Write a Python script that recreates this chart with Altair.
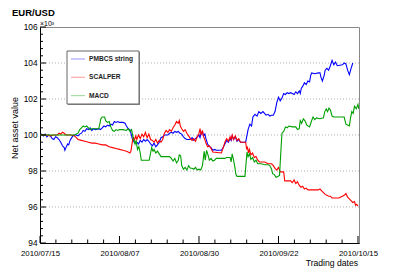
import altair as alt
import pandas as pd

# ---------------- data (values in 10^3 units, x in days after 2010-07-15) ----------------
START = pd.Timestamp("2010-07-15")

series_names = ["PMBCS string", "SCALPER", "MACD"]
series_colors = ["#0000ff", "#ff0000", "#00a000"]

pmbcs_days = [0, 0.5, 1, 1.5, 2, 2.5, 3, 3.5, 4, 4.5, 5, 5.5, 6, 6.5, 7, 7.2, 7.5, 8, 8.3, 8.7, 9, 9.5, 10, 10.5, 11, 11.5,
              12, 12.5, 13, 13.5, 14, 14.5, 15, 15.5, 16, 17, 17.5, 18, 18.5, 19, 19.5, 20, 20.5, 21, 21.5, 22, 22.5, 23,
              24, 24.6, 25, 25.5, 26, 26.3, 26.7, 27, 27.5, 28, 28.5, 29, 29.5, 30, 30.5, 31, 31.5, 32, 32.5, 33, 33.5,
              34, 34.5, 35, 35.5, 36, 37, 37.5, 38, 38.5, 39, 39.5, 40, 40.5, 41, 41.5, 42, 42.5, 43.5, 44, 44.5, 45,
              45.5, 46, 46.3, 46.6, 47, 47.3, 47.7, 48, 48.5, 49, 49.5, 50, 50.5, 51, 52.5, 53, 53.5, 54, 54.5, 55, 55.3,
              55.6, 56, 56.5, 57, 57.5, 58, 59.5, 60.2, 60.7, 61.2, 61.6, 62.2, 62.8, 63.3, 63.9, 64.5, 65.4, 66, 66.5,
              67, 67.5, 68, 68.5, 69, 69.5, 70, 70.5, 71, 71.5, 72, 72.5, 73, 73.5, 74, 74.5, 75, 75.3, 75.6, 76, 76.5,
              77, 77.5, 78, 78.3, 78.6, 79.5, 80.5, 81, 81.3, 81.7, 82.2, 82.5, 83, 83.5, 84, 84.5, 85, 85.5, 86, 87.5,
              88, 88.5, 89, 89.5, 90, 90.5]
pmbcs_vals = [100.0, 100.05, 99.95, 100.05, 99.9, 100.0, 99.95, 99.8, 99.75, 99.9, 99.85, 99.75, 99.6, 99.4, 99.3, 99.15,
              99.3, 99.5, 99.45, 99.7, 99.8, 99.95, 100.0, 100.0, 99.95, 100.05, 100.1, 100.25, 100.2, 100.35, 100.3,
              100.4, 100.25, 100.35, 100.3, 100.35, 100.3, 100.4, 100.5, 100.45, 100.55, 100.5, 100.6, 100.55, 100.75,
              100.7, 100.75, 100.7, 100.7, 100.65, 100.5, 100.35, 100.3, 100.1, 99.8, 99.65, 99.55, 99.6, 99.5, 99.7,
              99.6, 99.75, 99.65, 99.75, 99.65, 99.5, 99.4, 99.55, 99.35, 99.45, 99.6, 99.85, 99.9, 100.0, 100.0,
              100.1, 100.15, 100.1, 100.2, 100.15, 100.2, 100.1, 100.05, 99.9, 99.8, 99.75, 99.75, 99.85, 99.7, 99.8,
              99.9, 100.0, 99.85, 100.1, 100.2, 99.95, 100.05, 99.8, 99.5, 99.35, 99.3, 99.15, 99.2, 99.15, 99.15,
              99.3, 99.5, 99.7, 99.6, 99.8, 99.7, 99.95, 99.75, 99.9, 99.65, 99.75, 99.6, 99.6, 100.3, 100.6, 100.5,
              101.0, 101.15, 101.05, 101.3, 101.2, 101.3, 101.1, 101.15, 101.05, 101.1, 101.1, 101.3, 101.8, 102.1,
              101.9, 102.05, 102.3, 102.25, 102.35, 102.3, 102.35, 102.3, 102.25, 102.4, 102.3, 102.45, 102.3, 102.6,
              102.7, 102.9, 102.8, 103.0, 102.95, 103.3, 103.45, 103.4, 103.45, 103.45, 103.2, 103.0, 103.3, 103.6,
              103.7, 103.6, 103.85, 104.15, 103.9, 104.05, 103.85, 103.9, 104.0, 103.95, 103.6, 103.35, 103.7, 104.0]

scalper_days = [0, 2, 3, 4, 5, 5.5, 6, 6.5, 7, 7.5, 9, 10, 10.5, 11, 12, 13, 14, 15, 16, 17, 18, 19, 20, 21, 22, 23, 24,
                25, 25.5, 26, 26.3, 26.7, 27, 27.3, 27.7, 28, 28.5, 29, 29.5, 30, 30.5, 31, 31.5, 32, 32.5, 33, 33.5,
                34, 34.5, 35, 35.5, 36, 36.5, 37, 37.5, 38, 38.5, 39, 39.5, 40, 40.3, 40.6, 41, 41.5, 42, 42.5, 43,
                43.5, 44, 44.5, 45, 45.5, 46, 46.3, 46.6, 47, 47.3, 47.6, 48, 48.5, 49, 49.5, 50, 52.5, 53, 53.5, 54,
                54.5, 55, 55.3, 55.6, 56, 56.5, 57, 57.5, 58, 59.5, 59.8, 60, 60.3, 60.6, 61, 61.5, 62, 62.5, 63, 63.5,
                65, 66, 67, 67.5, 68, 68.5, 69, 69.5, 70.5, 70.8, 72.5, 73, 73.5, 74, 74.5, 75, 75.5, 76, 76.5, 77,
                77.5, 80.5, 81, 81.5, 82, 82.5, 83, 83.5, 84, 84.5, 86.5, 87, 87.5, 88, 88.5, 89, 89.5, 90, 90.5, 91,
                91.3, 91.6, 92]
scalper_vals = [100.0, 100.0, 99.95, 100.0, 100.0, 100.1, 100.05, 100.15, 100.1, 100.0, 100.0, 99.95, 99.85, 99.75, 99.7,
                99.65, 99.6, 99.55, 99.55, 99.5, 99.45, 99.45, 99.35, 99.3, 99.25, 99.2, 99.15, 99.1, 99.05, 99.0, 99.1,
                99.6, 99.9, 99.7, 99.95, 99.75, 100.0, 99.8, 100.05, 99.9, 100.15, 99.85, 100.05, 99.75, 99.7, 99.6,
                99.75, 99.55, 99.7, 99.6, 99.75, 100.1, 100.25, 100.15, 100.3, 100.2, 100.4, 100.55, 100.75, 100.65,
                100.8, 100.5, 100.35, 100.2, 100.3, 100.1, 99.95, 99.8, 99.7, 99.8, 99.65, 99.9, 100.1, 100.35, 100.0,
                100.25, 99.9, 99.8, 99.55, 99.35, 99.4, 99.25, 99.05, 99.0, 99.3, 99.6, 99.8, 99.65, 99.9, 99.75, 100.0,
                99.75, 99.95, 99.7, 99.8, 99.6, 99.6, 99.2, 99.35, 99.0, 99.2, 98.9, 99.0, 98.75, 98.8, 98.6, 98.5,
                98.5, 98.4, 98.4, 98.3, 98.15, 98.05, 98.2, 97.95, 97.95, 97.45, 97.45, 97.35, 97.5, 97.3, 97.4, 97.2,
                97.1, 97.15, 97.0, 97.05, 96.95, 96.95, 97.0, 96.9, 96.8, 96.7, 96.65, 96.6, 96.6, 96.5, 96.5, 96.55,
                96.6, 96.65, 96.75, 96.55, 96.45, 96.35, 96.25, 96.3, 96.1, 96.15, 96.05]

macd_days = [0, 10, 10.5, 11, 11.5, 12, 12.5, 13, 13.5, 14, 14.5, 15, 17, 17.3, 17.6, 18, 18.7, 19, 19.5, 20, 20.5, 21,
             21.5, 22, 22.5, 23, 24, 25, 25.5, 26, 26.5, 27, 27.5, 27.8, 28.2, 28.6, 29, 29.3, 31.6, 32, 32.3, 32.7, 33,
             33.5, 34, 34.5, 35, 37.5, 38, 38.5, 39, 39.5, 40, 40.3, 40.7, 41, 41.5, 42, 42.5, 43, 43.5, 44, 44.5, 45,
             45.5, 46, 46.5, 47, 47.5, 47.8, 48.2, 48.6, 49, 49.5, 50, 50.5, 51, 53.5, 54, 55, 55.3, 55.6, 56, 56.3,
             56.7, 57, 59.3, 59.6, 59.9, 60.2, 60.6, 61, 61.5, 62, 62.5, 63, 64, 65, 66, 66.5, 67, 67.3, 67.8, 68.3,
             68.8, 69.3, 69.6, 70, 70.5, 71, 71.5, 72, 73, 74, 74.5, 75, 75.3, 75.7, 76.2, 76.6, 77.2, 78, 78.5, 79,
             79.5, 80, 81, 82, 82.4, 82.8, 83.2, 83.6, 84, 84.5, 85, 87, 88, 88.5, 89, 89.5, 89.8, 90.2, 90.6, 91,
             91.5, 92, 92.2]
macd_vals = [100.0, 100.0, 100.05, 100.1, 100.3, 100.4, 100.5, 100.45, 100.5, 100.4, 100.3, 100.35, 100.35, 100.6, 100.9,
             101.0, 101.0, 100.8, 100.7, 100.75, 100.45, 100.25, 100.2, 100.3, 100.25, 100.3, 100.3, 100.25, 100.35,
             100.2, 100.3, 99.8, 99.5, 99.7, 99.2, 99.35, 99.0, 98.6, 98.6, 99.0, 99.3, 99.1, 99.2, 99.0, 99.1, 98.95,
             98.8, 98.8, 98.7, 98.55, 98.7, 98.45, 98.6, 98.9, 98.85, 98.3, 98.1, 98.2, 98.05, 98.3, 98.15, 98.15,
             98.1, 98.2, 98.05, 98.1, 98.05, 98.3, 99.1, 98.6, 99.15, 98.9, 98.6, 98.7, 98.55, 98.6, 98.7, 98.7,
             98.75, 98.75, 98.5, 98.95, 98.6, 98.3, 97.8, 97.7, 97.7, 98.4, 99.05, 98.8, 98.95, 98.65, 98.75, 98.5,
             98.6, 98.4, 98.4, 98.35, 98.35, 98.3, 98.1, 97.85, 97.8, 97.65, 97.7, 97.75, 98.8, 100.1, 100.2, 100.45,
             100.4, 100.5, 100.45, 100.45, 100.3, 100.35, 100.8, 100.65, 100.9, 100.8, 100.55, 100.45, 100.75, 101.0,
             100.85, 100.95, 100.9, 100.95, 101.3, 101.45, 101.3, 101.5, 101.4, 101.05, 101.0, 101.0, 101.0, 100.6,
             100.55, 100.5, 100.9, 101.3, 101.2, 101.6, 101.45, 101.7, 101.45]

y_major_ticks = [94, 96, 98, 100, 102, 104, 106]
y_grid_values = [96, 98, 100, 102, 104]
x_label_days = [0, 23, 46, 69, 92]

# ---------------- helpers ----------------
def to_frame(days, vals):
    return pd.DataFrame({
        "date": [START + pd.Timedelta(days=d) for d in days],
        "value": vals,
    })

W, H = 319, 216
FONT = "Liberation Sans"

x_dom = [alt.DateTime(year=2010, month=7, date=15),
         alt.DateTime(year=2010, month=10, date=15, hours=7)]
x_vals = [alt.DateTime(year=d.year, month=d.month, date=d.day)
          for d in [START + pd.Timedelta(days=k) for k in x_label_days]]

x_scale = alt.Scale(domain=x_dom)
y_scale = alt.Scale(domain=[94, 106], nice=False, zero=False)

x_axis = alt.Axis(values=x_vals, format="%Y/%m/%d", labelFont=FONT, labelFontSize=7.8, labelColor="#000",
                  ticks=False, domainColor="#000", domainWidth=1, grid=False, title=None, labelPadding=6,
                  labelFlush=False)
y_axis = alt.Axis(values=y_major_ticks, labelFont=FONT, labelFontSize=8.3, labelColor="#000", ticks=False,
                  domainColor="#000", domainWidth=1, grid=False, title=None, labelPadding=3)

layers = []

# grid
grid_df = pd.DataFrame({"value": y_grid_values})
layers.append(alt.Chart(grid_df).mark_rule(color="#999", strokeDash=[1, 2], strokeWidth=0.8).encode(
    y=alt.Y("value:Q", scale=y_scale, axis=y_axis)))

# series lines (blue, red, then green on top)
for name, color, days, vals in [
    (series_names[0], series_colors[0], pmbcs_days, pmbcs_vals),
    (series_names[1], series_colors[1], scalper_days, scalper_vals),
    (series_names[2], series_colors[2], macd_days, macd_vals),
]:
    layers.append(alt.Chart(to_frame(days, vals)).mark_line(color=color, strokeWidth=1.1, clip=True).encode(
        x=alt.X("date:T", scale=x_scale, axis=x_axis),
        y=alt.Y("value:Q", scale=y_scale, axis=y_axis)))

# inward ticks on y axis
y_minor = [94 + 0.4 * i for i in range(31) if (i % 5) != 0]
layers.append(alt.Chart(pd.DataFrame({"value": y_major_ticks})).mark_rule(color="#000", strokeWidth=1).encode(
    y=alt.Y("value:Q", scale=y_scale, axis=y_axis), x=alt.value(0), x2=alt.value(6)))
layers.append(alt.Chart(pd.DataFrame({"value": y_minor})).mark_rule(color="#000", strokeWidth=1).encode(
    y=alt.Y("value:Q", scale=y_scale, axis=y_axis), x=alt.value(0), x2=alt.value(3)))

# inward ticks on x axis
x_major_dates = [START + pd.Timedelta(days=k) for k in x_label_days]
x_minor_dates = [START + pd.Timedelta(days=4.6 * i) for i in range(21) if i % 5 != 0]
layers.append(alt.Chart(pd.DataFrame({"date": x_major_dates})).mark_rule(color="#000", strokeWidth=1).encode(
    x=alt.X("date:T", scale=x_scale, axis=x_axis), y=alt.value(H), y2=alt.value(H - 7)))
layers.append(alt.Chart(pd.DataFrame({"date": x_minor_dates})).mark_rule(color="#000", strokeWidth=1).encode(
    x=alt.X("date:T", scale=x_scale, axis=x_axis), y=alt.value(H), y2=alt.value(H - 3.5)))

one = pd.DataFrame({"k": [0]})

# legend box (shadow + box)
layers.append(alt.Chart(one).mark_rect(fill="#888", stroke=None).encode(
    x=alt.value(28), x2=alt.value(100), y=alt.value(25), y2=alt.value(78)))
layers.append(alt.Chart(one).mark_rect(fill="#fff", stroke="#666", strokeWidth=1).encode(
    x=alt.value(27), x2=alt.value(99), y=alt.value(24), y2=alt.value(77)))

for i, (name, color) in enumerate(zip(series_names, series_colors)):
    ly = 32 + i * 18.3
    layers.append(alt.Chart(pd.DataFrame({"name": [name]})).mark_rule(color=color, strokeWidth=1.2, opacity=0.35).encode(
        x=alt.value(31), x2=alt.value(45), y=alt.value(ly)))
    layers.append(alt.Chart(pd.DataFrame({"name": [name]})).mark_text(
        align="left", baseline="middle", font=FONT, fontSize=6.6, fontWeight="bold", color="#222").encode(
        x=alt.value(49), y=alt.value(ly), text="name:N"))

# texts
texts = [
    ("EUR/USD", -28, -19, "left", "top", 9.5, "bold", 0),
    ("×10³", 0, 0, "left", "bottom", 7, "normal", 0),
    ("Net asset value", -25, 101, "center", "middle", 9, "normal", 270),
    ("Trading dates", 318, 236, "right", "middle", 8.6, "normal", 0),
]
for t, tx, ty, al, bl, fs, fw, ang in texts:
    layers.append(alt.Chart(pd.DataFrame({"t": [t]})).mark_text(
        align=al, baseline=bl, font=FONT, fontSize=fs, fontWeight=fw, color="#000", angle=ang).encode(
        x=alt.value(tx), y=alt.value(ty), text="t:N"))

chart = alt.layer(*layers).properties(
    width=W, height=H,
    padding={"left": 32, "top": 19, "right": 32, "bottom": 27},
    autosize=alt.AutoSizeParams(type="none"),
    background="#ffffff",
).configure_view(stroke="#888", strokeWidth=1)

chart.save("out.html", embed_options={"renderer": "svg", "actions": False})
